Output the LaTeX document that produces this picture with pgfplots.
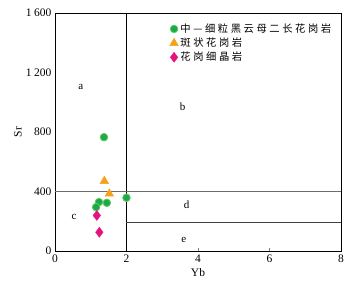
\documentclass[border=0pt]{standalone}
\usepackage{pgfplots}
\pgfplotsset{compat=1.18}
\usepackage{fontspec}
\setmainfont{Liberation Serif}
\newfontfamily\cjk[LetterSpace=25]{Noto Sans CJK SC}
\definecolor{cgreen}{HTML}{1DA84A}
\definecolor{cgreenl}{HTML}{5CCB5F}
\definecolor{corange}{HTML}{F7A11A}
\definecolor{cmag}{HTML}{E5137F}
\begin{document}
\begin{tikzpicture}
\begin{axis}[
  name=ax,
  scale only axis,
  width=286pt, height=238pt,
  xmin=0, xmax=8, ymin=0, ymax=1600,
  xtick={0,2,4,6,8},
  ytick={0,400,800,1200,1600},
  yticklabels={0,400,800,1\hspace{2.5pt}200,1\hspace{2.5pt}600},
  tick align=inside,
  major tick length=3pt,
  xtick pos=bottom, ytick pos=left,
  ytick style={draw=none},
  /pgf/number format/assume math mode=true,
  tick label style={font=\fontsize{11.5}{12}\selectfont},
  label style={font=\fontsize{11.5}{12}\selectfont},
  xlabel={Yb}, ylabel={Sr},
  xlabel style={at={(axis description cs:0.5,0)}, anchor=center, yshift=-22pt},
  ylabel style={at={(axis description cs:0,0.5)}, anchor=center, yshift=37pt},
  axis line style={line width=0.8pt},
  clip=false,
  legend cell align=left,
  legend style={at={(0.39,0.972)}, anchor=north west, draw=none, fill=none,
    font=\cjk\fontsize{10.3}{12}\selectfont, row sep=0pt,
    /tikz/every even column/.append style={column sep=2pt}},
]
\addplot[only marks, mark=*, mark size=3.8pt, mark options={fill=cgreen, draw=cgreenl, line width=0.8pt}]
  coordinates {(1.37,765) (2.0,358) (1.45,324) (1.23,329) (1.15,295)};
\addlegendentry{中—细粒黑云母二长花岗岩}
\addplot[only marks, mark=triangle*, mark size=5pt, mark options={fill=corange, draw=corange}]
  coordinates {(1.38,470) (1.52,385)};
\addlegendentry{斑状花岗岩}
\addplot[only marks, mark=diamond*, mark size=5pt, mark options={fill=cmag, draw=cmag}]
  coordinates {(1.17,239) (1.24,126)};
\addlegendentry{花岗细晶岩}
\addplot[black, line width=0.7pt, forget plot] coordinates {(2,0) (2,1600)};
\addplot[gray!85!black, line width=1.3pt, forget plot] coordinates {(0,400) (8,400)};
\addplot[black!75, line width=0.7pt, forget plot] coordinates {(2,190) (8,190)};
\node[font=\fontsize{11}{12}\selectfont] at (axis cs:0.72,1105) {a};
\node[font=\fontsize{11}{12}\selectfont] at (axis cs:3.57,968) {b};
\node[font=\fontsize{11}{12}\selectfont] at (axis cs:0.53,230) {c};
\node[font=\fontsize{11}{12}\selectfont] at (axis cs:3.68,313) {d};
\node[font=\fontsize{11}{12}\selectfont] at (axis cs:3.6,72) {e};
\end{axis}
\pgfresetboundingbox
\path[use as bounding box] ([shift={(-55pt,-35pt)}]ax.south west) rectangle ([shift={(13pt,13pt)}]ax.north east);
\end{tikzpicture}
\end{document}
